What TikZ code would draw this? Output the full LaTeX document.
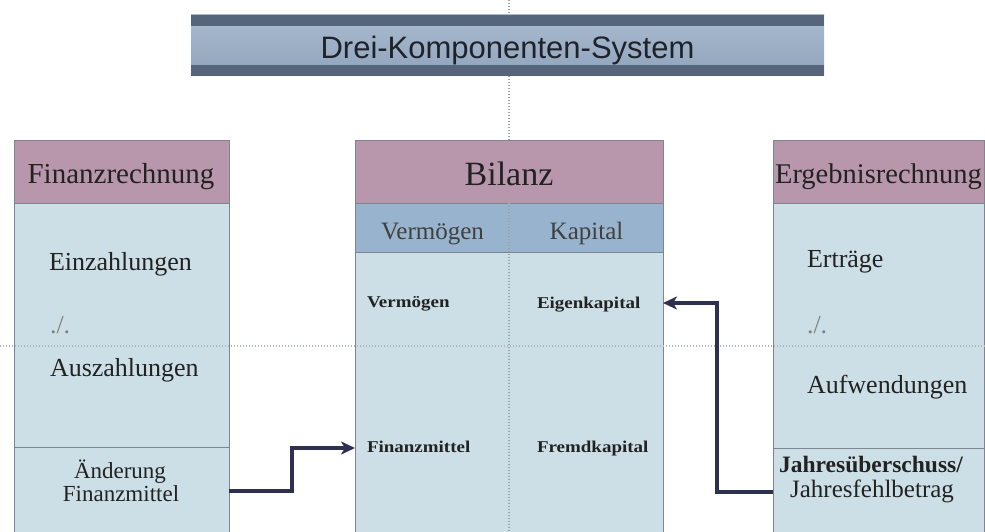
\documentclass[tikz,border=0pt]{standalone}
\usepackage{fontspec}
\setmainfont{Liberation Serif}
\newfontfamily\titlefont{Liberation Sans}
\usetikzlibrary{arrows.meta}

\definecolor{headmauve}{HTML}{B897AD}
\definecolor{subblue}{HTML}{98B3CD}
\definecolor{bodyblue}{HTML}{CDDFE6}
\definecolor{cellborder}{HTML}{7D868E}
\definecolor{stripe}{HTML}{56657A}
\definecolor{barlight}{HTML}{A9BBCF}
\definecolor{bardark}{HTML}{8FA3BB}
\definecolor{arrowblue}{HTML}{2E3052}
\definecolor{guidegray}{HTML}{9AA3AA}
\definecolor{textdark}{HTML}{222222}
\definecolor{titleink}{HTML}{1E232B}

\newcommand\fsz[1]{\fontsize{#1}{#1}\selectfont}

\tikzset{
  cell/.style={draw=cellborder, line width=0.9pt, inner sep=0pt, outer sep=0pt},
  headcell/.style={cell, fill=headmauve},
  subcell/.style={cell, fill=subblue},
  bodycell/.style={cell, fill=bodyblue},
  lbl/.style={inner sep=0pt, outer sep=0pt, text=textdark},
  conn/.style={draw=arrowblue, line width=3.2pt,
    -{Stealth[length=14pt,width=13pt,inset=4pt]}},
  guide/.style={draw=guidegray, line width=1.4pt, dash pattern=on 1.4pt off 1.6pt},
  titlebar/.style={inner sep=0pt, outer sep=0pt,
    minimum width=633pt, minimum height=61pt,
    top color=barlight, bottom color=bardark,
    path picture={
      \fill[stripe] (path picture bounding box.north west)
        rectangle ([yshift=-11pt]path picture bounding box.north east);
      \fill[stripe] (path picture bounding box.south west)
        rectangle ([yshift=11pt]path picture bounding box.south east);
    }},
}

\begin{document}
\begin{tikzpicture}[x=1pt,y=-1pt]
\clip (0,0) rectangle (985,532);
\fill[white] (0,0) rectangle (985,532);

% title bar
\node[titlebar] (title) at (507.5,45.5) {};
\node[lbl, anchor=base, text=titleink] (titletext) at (507.5,59)
  {\titlefont\fsz{31}Drei-Komponenten-System};

% Finanzrechnung column
\node[headcell, minimum width=215pt, minimum height=63pt] (fhead) at (121.5,171.5) {};
\node[bodycell, minimum width=215pt, minimum height=244pt] (fbody) at (121.5,325) {};
\node[bodycell, minimum width=215pt, minimum height=93pt] (ffoot) at (121.5,493.5) {};

% Bilanz column
\node[headcell, minimum width=308pt, minimum height=63pt] (bhead) at (509,171.5) {};
\node[subcell, minimum width=308pt, minimum height=49pt] (bsub) at (509,227.5) {};
\node[bodycell, minimum width=308pt, minimum height=288pt] (bbody) at (509,396) {};

% Ergebnisrechnung column
\node[headcell, minimum width=211pt, minimum height=63pt] (ehead) at (878.5,171.5) {};
\node[bodycell, minimum width=211pt, minimum height=245pt] (ebody) at (878.5,325.5) {};
\node[bodycell, minimum width=211pt, minimum height=92pt] (efoot) at (878.5,494) {};

% guide lines
\draw[guide] (bhead.north |- 0,0) -- (bhead.north |- title.north);
\draw[guide] (bhead.north |- title.south) -- (bhead.north);
\draw[guide] (bsub.north) -- (bbody.south);
\coordinate (hl) at (0,346);
\coordinate (hr) at (985,346);
\draw[guide, draw=guidegray!80] (hl) -- (hr);

% headers
\node[lbl, anchor=base] (fheadtext) at (121,183) {\fsz{29}Finanzrechnung};
\node[lbl, anchor=base] (bheadtext) at (509,185) {\fsz{34}Bilanz};
\node[lbl, anchor=base] (eheadtext) at (878.5,183) {\fsz{28.5}Ergebnisrechnung};
\node[lbl, anchor=base, text=black!75] (vsub) at (432.5,239) {\fsz{25}Vermögen};
\node[lbl, anchor=base, text=black!75] (ksub) at (586.5,239) {\fsz{25}Kapital};

% Finanzrechnung texts
\node[lbl, anchor=base west] (einz) at (49,270) {\fsz{26}Einzahlungen};
\node[lbl, anchor=base west, text=black!50] (fminus) at (50,333) {\fsz{26}./.};
\node[lbl, anchor=base west] (ausz) at (50,376) {\fsz{26}Auszahlungen};
\node[lbl, anchor=base] (aend) at (120,478) {\fsz{23}Änderung};
\node[lbl, anchor=base] (fmit) at (121,501) {\fsz{23}Finanzmittel};

% Bilanz texts
\node[lbl, anchor=base west] (verm) at (367,307)
  {\scalebox{1.15}[1]{\bfseries\fsz{16.5}Vermögen}};
\node[lbl, anchor=base west] (eigk) at (537,308)
  {\scalebox{1.15}[1]{\bfseries\fsz{16.5}Eigenkapital}};
\node[lbl, anchor=base west] (finm) at (367,452)
  {\scalebox{1.15}[1]{\bfseries\fsz{16.5}Finanzmittel}};
\node[lbl, anchor=base west] (fremd) at (537,452)
  {\scalebox{1.15}[1]{\bfseries\fsz{16.5}Fremdkapital}};

% Ergebnisrechnung texts
\node[lbl, anchor=base west] (ertr) at (807,267) {\fsz{26}Erträge};
\node[lbl, anchor=base west, text=black!50] (eminus) at (807,333) {\fsz{26}./.};
\node[lbl, anchor=base west] (aufw) at (807,393) {\fsz{26}Aufwendungen};
\node[lbl, anchor=base] (jue) at (871,472) {\bfseries\fsz{23.5}Jahresüberschuss/};
\node[lbl, anchor=base] (jfb) at (872,497) {\fsz{25}Jahresfehlbetrag};

% connectors
\coordinate (fout) at (ffoot.east |- 0,491);
\coordinate (lbend) at (292,448);
\coordinate (bin) at (bbody.west |- 0,448);
\draw[conn] (fout) -| (lbend) -- (bin);

\coordinate (eout) at (efoot.west |- 0,492);
\coordinate (rbend) at (717,303);
\coordinate (bout) at (bbody.east |- 0,303);
\draw[conn] (eout) -| (rbend) -- (bout);
\end{tikzpicture}
\end{document}
